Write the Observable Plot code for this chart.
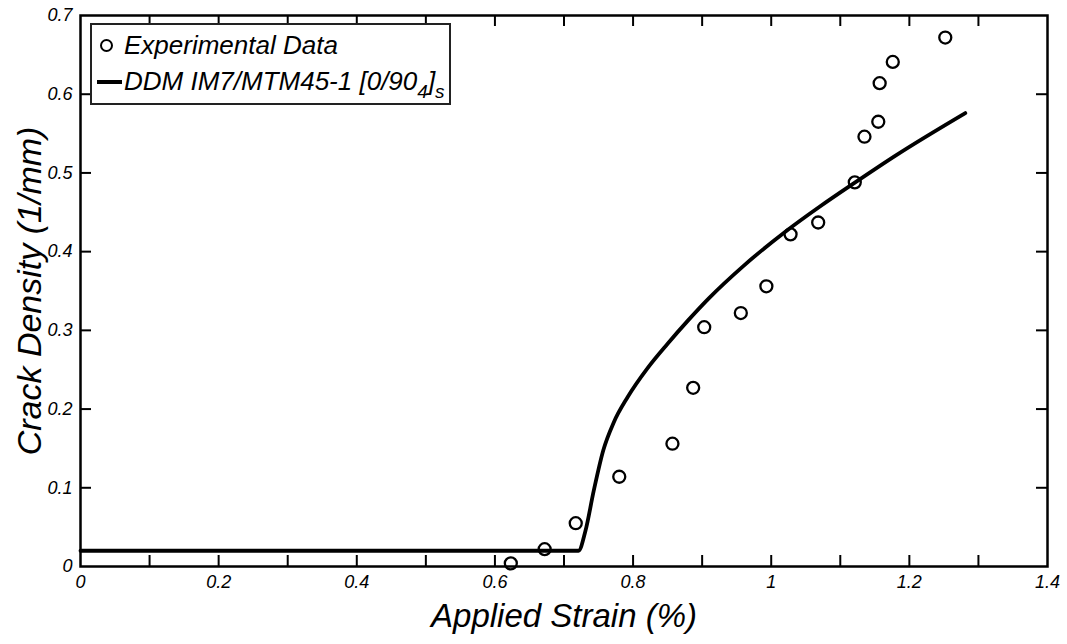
<!DOCTYPE html>
<html>
<head>
<meta charset="utf-8">
<script src="https://cdn.jsdelivr.net/npm/d3@7"></script>
<script src="https://cdn.jsdelivr.net/npm/@observablehq/plot@0.6"></script>
<style>
  html, body { margin: 0; padding: 0; background: #fff; }
  #wrap { position: relative; width: 1067px; height: 644px; font-family: "Liberation Sans", Arial, sans-serif; }
  #legend {
    position: absolute; left: 90px; top: 23px; width: 361px; height: 82px;
    border: 2px solid #222; background: #fff; box-sizing: border-box;
    font-style: italic; font-size: 26px; color: #000;
  }
  #legend .row { position: absolute; left: 0; height: 30px; line-height: 30px; white-space: nowrap; }
  #legend .sym { display: inline-block; width: 32px; position: relative; height: 30px; vertical-align: top; }
  #legend .circ { position: absolute; left: 8px; top: 9px; width: 9px; height: 9px; border: 2.5px solid #000; border-radius: 50%; }
  #legend .ln { position: absolute; left: 5px; top: 14px; width: 25px; height: 4px; background: #000; }
  #legend sub { font-size: 19px; vertical-align: -8px; line-height: 0; }
</style>
</head>
<body>
<div id="wrap"></div>
<script>
// ---- data ----
const expStrain = [0.623, 0.672, 0.717, 0.780, 0.857, 0.887, 0.903, 0.956, 0.993, 1.028, 1.068, 1.121, 1.135, 1.155, 1.157, 1.176, 1.252];
const expDensity = [0.004, 0.022, 0.055, 0.114, 0.156, 0.227, 0.304, 0.322, 0.356, 0.422, 0.437, 0.488, 0.546, 0.565, 0.614, 0.641, 0.672];

const ddmStrain = [0, 0.721, 0.731, 0.743, 0.757, 0.772, 0.792, 0.821, 0.850, 0.880, 0.910, 0.960, 1.020, 1.070, 1.120, 1.180, 1.281];
const ddmDensity = [0.020, 0.020, 0.045, 0.096, 0.148, 0.183, 0.215, 0.252, 0.283, 0.313, 0.341, 0.382, 0.425, 0.457, 0.487, 0.522, 0.576];

const xTickLabels = [0, 0.2, 0.4, 0.6, 0.8, 1, 1.2, 1.4];
const xTickMarks = [0.1, 0.2, 0.3, 0.4, 0.5, 0.6, 0.7, 0.8, 0.9, 1.0, 1.1, 1.2, 1.3];
const yTickLabels = [0, 0.1, 0.2, 0.3, 0.4, 0.5, 0.6, 0.7];
const yTickMarks = [0.1, 0.2, 0.3, 0.4, 0.5, 0.6];

const xTitle = "Applied Strain (%)";
const yTitle = "Crack Density (1/mm)";
const legendExp = "Experimental Data";

// ---- layout ----
const W = 1067, H = 644;
const mT = 15, mB = 78, mL = 80, mR = 20;
const plotW = W - mL - mR, plotH = H - mT - mB;
const tickLen = 11;

const expData = expStrain.map((x, i) => ({x, y: expDensity[i]}));
const ddmData = ddmStrain.map((x, i) => ({x, y: ddmDensity[i]}));
const fmt = d3.format("~g");

const chart = Plot.plot({
  width: W, height: H,
  marginTop: mT, marginBottom: mB, marginLeft: mL, marginRight: mR,
  style: {fontFamily: "'Liberation Sans', Arial, sans-serif", background: "#fff"},
  x: {domain: [0, 1.4]},
  y: {domain: [0, 0.7]},
  marks: [
    // inward tick marks on all four sides
    Plot.tickX(xTickMarks, {x: d => d, insetTop: plotH - tickLen, stroke: "#000", strokeWidth: 2}),
    Plot.tickX(xTickMarks, {x: d => d, insetBottom: plotH - tickLen, stroke: "#000", strokeWidth: 2}),
    Plot.tickY(yTickMarks, {y: d => d, insetRight: plotW - tickLen, stroke: "#000", strokeWidth: 2}),
    Plot.tickY(yTickMarks, {y: d => d, insetLeft: plotW - tickLen, stroke: "#000", strokeWidth: 2}),
    Plot.axisX(xTickLabels, {anchor: "bottom", tickSize: 0, tickPadding: 9, tickFormat: fmt, fontSize: 18, fontStyle: "italic", label: null, fill: "#000"}),
    Plot.axisY(yTickLabels, {anchor: "left", tickSize: 0, tickPadding: 8, tickFormat: fmt, fontSize: 18, fontStyle: "italic", label: null, fill: "#000"}),
    Plot.line(ddmData, {x: "x", y: "y", stroke: "#000", strokeWidth: 3.8, curve: "monotone-x"}),
    Plot.dot(expData, {x: "x", y: "y", r: 6, stroke: "#000", strokeWidth: 2.3, fill: "none"}),
    Plot.frame({stroke: "#000", strokeWidth: 2.5}),
    Plot.text([xTitle], {frameAnchor: "bottom", dy: 50, lineAnchor: "middle", textAnchor: "middle", fontSize: 33, fontStyle: "italic", fill: "#000"}),
    Plot.text([yTitle], {frameAnchor: "left", dx: -50, rotate: -90, lineAnchor: "middle", textAnchor: "middle", fontSize: 34, fontStyle: "italic", fill: "#000"})
  ]
});

const wrap = document.getElementById("wrap");
wrap.appendChild(chart);

const legend = document.createElement("div");
legend.id = "legend";
legend.innerHTML =
  `<div class="row" style="top:5px"><span class="sym"><span class="circ"></span></span>${legendExp}</div>` +
  `<div class="row" style="top:41px"><span class="sym"><span class="ln"></span></span>DDM IM7/MTM45-1 [0/90<sub>4</sub>]<sub>s</sub></div>`;
wrap.appendChild(legend);
</script>
</body>
</html>
